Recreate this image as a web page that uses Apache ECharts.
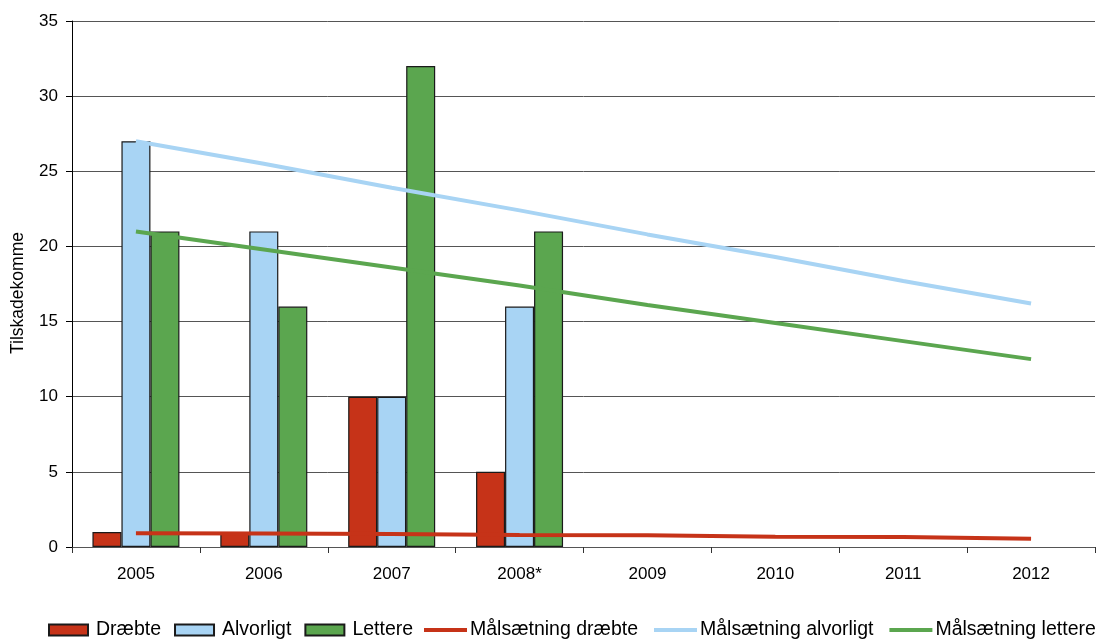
<!DOCTYPE html>
<html>
<head>
<meta charset="utf-8">
<script src="https://cdn.jsdelivr.net/npm/echarts@6/dist/echarts.min.js"></script>
<style>
  html, body { margin: 0; padding: 0; background: #fff; }
  #chart { width: 1109px; height: 639px; }
</style>
</head>
<body>
<div id="chart"></div>
<script>
// Years on the category axis
const years = ['2005', '2006', '2007', '2008*', '2009', '2010', '2011', '2012'];

// Recorded casualties per year (no data after 2008)
const draebte = [1, 1, 10, 5, null, null, null, null];
const alvorligt = [27, 21, 10, 16, null, null, null, null];
const lettere = [21, 16, 32, 21, null, null, null, null];

// Target trajectories towards 2012
const maalDraebte = [0.92, 0.9, 0.86, 0.8, 0.78, 0.68, 0.67, 0.55];
const maalAlvorligt = [27, 25.5, 23.9, 22.4, 20.8, 19.3, 17.7, 16.2];
const maalLettere = [21, 19.8, 18.6, 17.4, 16.1, 14.9, 13.7, 12.5];

const RED = '#C63318';
const BLUE = '#A8D4F4';
const GREEN = '#5BA64F';
const FONT = '"Liberation Sans", Arial, sans-serif';

const barStyle = (c) => ({ color: c, borderColor: '#1a1a1a', borderWidth: 1.2 });
const lineSeries = (name, data, c) => ({
  name, type: 'line', data, symbol: 'none', showSymbol: false, z: 5,
  lineStyle: { color: c, width: 4 }, itemStyle: { color: c }
});

const legendText = { fontSize: 19.5, color: '#000', fontFamily: FONT };

const chart = echarts.init(document.getElementById('chart'));
chart.setOption({
  animation: false,
  textStyle: { fontFamily: FONT },
  grid: { left: 72, right: 14, top: 21, bottom: 92, containLabel: false, outerBoundsMode: 'none' },
  legend: [
    {
      left: 43, top: 615,
      icon: 'rect', itemWidth: 39, itemHeight: 11, itemGap: 13,
      textStyle: Object.assign({ padding: [0, 0, 0, 3] }, legendText),
      data: ['Dræbte', 'Alvorligt', 'Lettere']
    },
    {
      left: 419, top: 615,
      icon: 'rect', itemWidth: 43, itemHeight: 4, itemGap: 16,
      itemStyle: { borderWidth: 0 },
      textStyle: Object.assign({ padding: [0, 0, 0, -2] }, legendText),
      data: ['Målsætning dræbte', 'Målsætning alvorligt', 'Målsætning lettere']
    }
  ],
  xAxis: {
    type: 'category', data: years, boundaryGap: true,
    axisLine: { lineStyle: { color: '#555', width: 1 } },
    axisTick: { show: true, length: 6, lineStyle: { color: '#333' } },
    axisLabel: { fontSize: 17, color: '#000', margin: 19, fontFamily: FONT }
  },
  yAxis: {
    type: 'value', min: 0, max: 35, interval: 5,
    name: 'Tilskadekomme', nameLocation: 'middle', nameGap: 45, nameRotate: 90,
    nameTextStyle: { fontSize: 17.5, color: '#000', fontFamily: FONT, padding: [0, 18, 0, 0] },
    axisLine: { show: true, lineStyle: { color: '#000', width: 1 } },
    axisTick: { show: true, length: 6, lineStyle: { color: '#000' } },
    axisLabel: { fontSize: 17, color: '#000', margin: 14, fontFamily: FONT },
    splitLine: { lineStyle: { color: '#555', width: 1 } }
  },
  series: [
    { name: 'Dræbte', type: 'bar', data: draebte, barWidth: 29, barGap: '0%', itemStyle: barStyle(RED) },
    { name: 'Alvorligt', type: 'bar', data: alvorligt, barWidth: 29, barGap: '0%', itemStyle: barStyle(BLUE) },
    { name: 'Lettere', type: 'bar', data: lettere, barWidth: 29, barGap: '0%', itemStyle: barStyle(GREEN) },
    lineSeries('Målsætning dræbte', maalDraebte, RED),
    lineSeries('Målsætning alvorligt', maalAlvorligt, BLUE),
    lineSeries('Målsætning lettere', maalLettere, GREEN)
  ]
});
</script>
</body>
</html>
